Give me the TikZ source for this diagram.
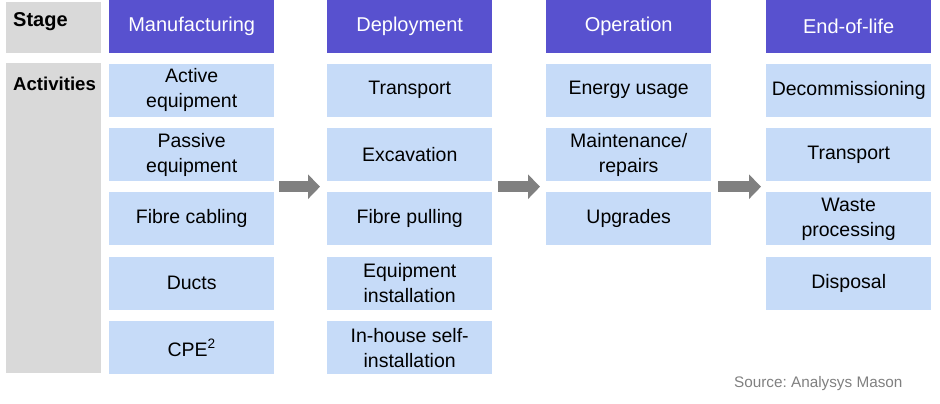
\documentclass[tikz,border=0pt]{standalone}
\usepackage{fontspec}
\setmainfont{Liberation Sans}
\usetikzlibrary{arrows.meta, positioning, calc}
\definecolor{hdrblue}{HTML}{5851CF}
\definecolor{actblue}{HTML}{C6DBF8}
\definecolor{lblgrey}{HTML}{D9D9D9}
\definecolor{arrgrey}{HTML}{808080}
\frenchspacing
\tikzset{
  rowlabel/.style={anchor=west,inner sep=0pt,font=\fontsize{20}{24}\selectfont\bfseries},
  header/.style={rectangle,fill=hdrblue,text=white,minimum width=165pt,minimum height=53pt,anchor=north west,inner sep=0pt,font=\fontsize{20}{24}\selectfont},
  activity/.style={rectangle,fill=actblue,minimum width=165pt,minimum height=53pt,align=center,inner sep=0pt,font=\fontsize{19.5}{25}\selectfont},
  flow/.style={arrgrey,line width=11pt,-{Triangle[length=12pt,width=24pt]}}
}

\begin{document}
\begin{tikzpicture}[x=1pt,y=-1pt,node distance=11pt]
\useasboundingbox (0,0) rectangle (940,404);
% row labels
\fill[lblgrey] (6,2) rectangle (101,53);
\fill[lblgrey] (6,63) rectangle (101,373);
\node[rowlabel] (stage) at (13,22) {Stage};
\node[rowlabel, font=\fontsize{18.6}{22}\selectfont\bfseries] (activities) at (13,84) {Activities};
% manufacturing
\node[header] (mh) at (109,0) {Manufacturing};
\node[activity, below=10pt of mh] (m1) {Active\\equipment};
\node[activity, below=of m1] (m2) {Passive\\equipment};
\node[activity, below=of m2] (m3) {Fibre cabling};
\node[activity, below=of m3] (m4) {Ducts};
\node[activity, below=of m4] (m5) {CPE\textsuperscript{2}};
% deployment
\node[header] (dh) at (327,0) {Deployment};
\node[activity, below=10pt of dh] (d1) {Transport};
\node[activity, below=of d1] (d2) {Excavation};
\node[activity, below=of d2] (d3) {Fibre pulling};
\node[activity, below=of d3] (d4) {Equipment\\installation};
\node[activity, below=of d4] (d5) {In-house self-\\installation};
% operation
\node[header] (oh) at (546,0) {Operation};
\node[activity, below=10pt of oh] (o1) {Energy usage};
\node[activity, below=of o1] (o2) {Maintenance/\\repairs};
\node[activity, below=of o2] (o3) {Upgrades};
% end of life
\node[header] (eh) at (766,0) {End-of-life};
\node[activity, below=10pt of eh] (e1) {Decommissioning};
\node[activity, below=of e1] (e2) {Transport};
\node[activity, below=of e2] (e3) {Waste\\processing};
\node[activity, below=of e3] (e4) {Disposal};
% stage arrows
\coordinate (mgap) at ($(m2.south east)!0.5!(m3.north east)$);
\coordinate (dgap) at ($(d2.south east)!0.5!(d3.north east)$);
\coordinate (ogap) at ($(o2.south east)!0.5!(o3.north east)$);
\draw[flow] ([xshift=5pt]mgap) -- ([xshift=-7pt]mgap -| d2.west);
\draw[flow] ([xshift=6pt]dgap) -- ([xshift=-6pt]dgap -| o2.west);
\draw[flow] ([xshift=7pt]ogap) -- ([xshift=-5pt]ogap -| e2.west);
% source
\node[anchor=east,text=arrgrey,font=\fontsize{15.3}{18}\selectfont] (src) at (906,384) {Source: Analysys Mason};
\end{tikzpicture}
\end{document}
